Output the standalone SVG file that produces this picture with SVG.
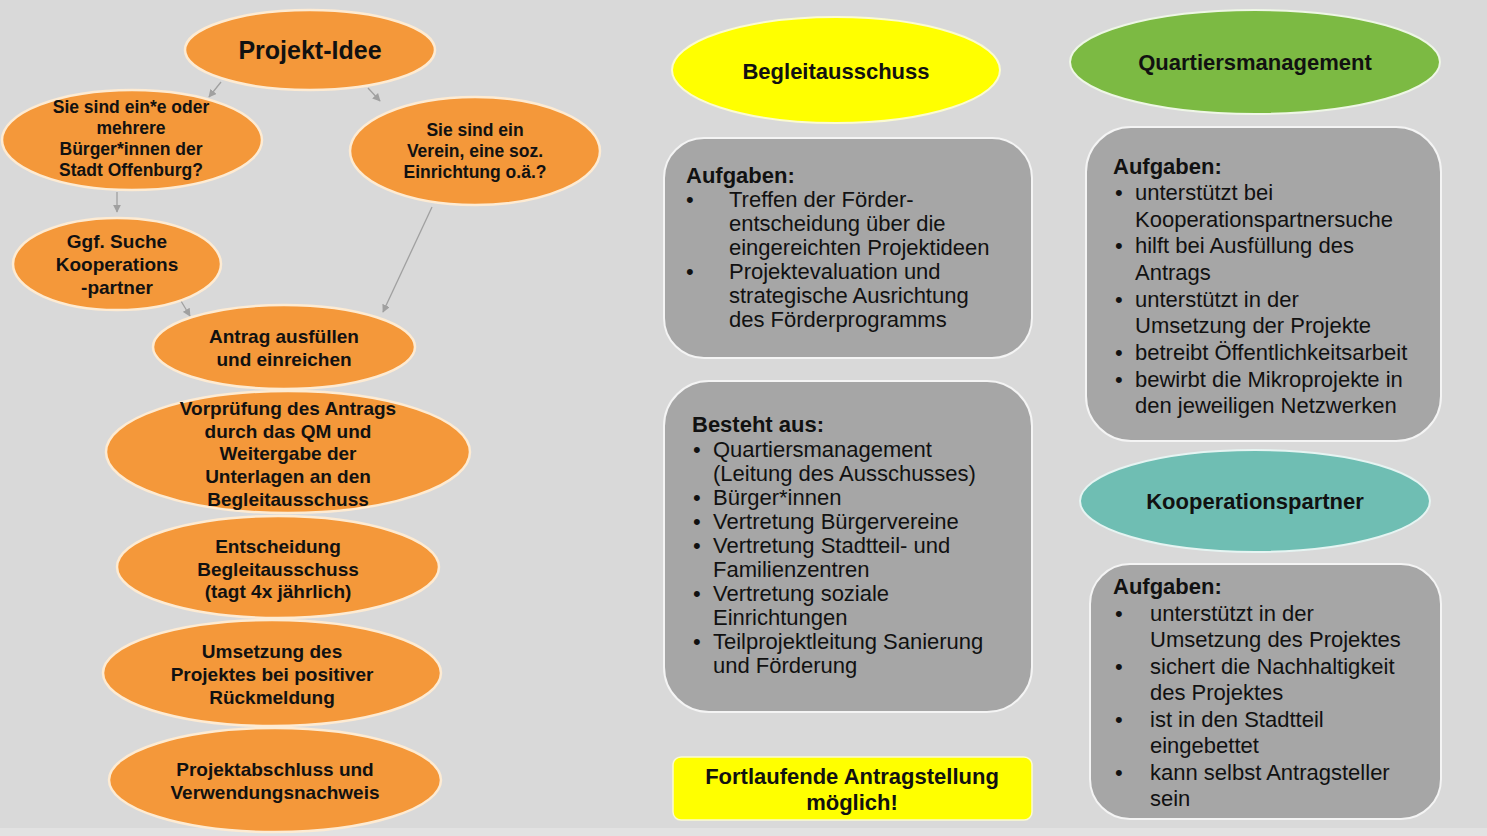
<svg xmlns="http://www.w3.org/2000/svg" width="1487" height="836" viewBox="0 0 1487 836">
<defs>
<marker id="ah" viewBox="0 0 10 10" refX="9" refY="5" markerWidth="8" markerHeight="8" markerUnits="userSpaceOnUse" orient="auto">
<path d="M0,0 L10,5 L0,10 z" fill="#a0a0a0"/>
</marker>
<style>
.bg{fill:#d9d9d9}
.or{fill:#f4983a;stroke:#fdebd3;stroke-width:2.5}
.gb{fill:#a6a6a6;stroke:#f4f4f4;stroke-width:2}
.t{font-family:"Liberation Sans",Arial,sans-serif;fill:#111}
.b{font-weight:bold}
.ob{font-family:"Liberation Sans",Arial,sans-serif;font-weight:bold;fill:#111;text-anchor:middle}
.n{font-family:"Liberation Sans",Arial,sans-serif;font-size:22px;fill:#111}
.con{stroke:#a0a0a0;stroke-width:1.3;fill:none;marker-end:url(#ah)}
</style>
</defs>
<rect class="bg" x="0" y="0" width="1487" height="836"/>
<rect x="0" y="828" width="1487" height="8" fill="#e2e2e2"/>

<g id="connectors">
<line class="con" x1="221" y1="82" x2="209" y2="97"/>
<line class="con" x1="368" y1="88" x2="380" y2="101"/>
<line class="con" x1="117" y1="192" x2="117" y2="212"/>
<line class="con" x1="181" y1="301" x2="190" y2="316"/>
<line class="con" x1="432" y1="207" x2="383" y2="312"/>
</g>

<g id="projekt-idee">
<ellipse class="or" cx="310" cy="50" rx="125" ry="40"/>
<text class="ob" x="310" y="59" font-size="25">Projekt-Idee</text>
</g>
<g id="buerger">
<ellipse class="or" cx="132" cy="140" rx="130" ry="50"/>
<text class="ob" font-size="17.5"><tspan x="131" y="113">Sie sind ein*e oder</tspan><tspan x="131" y="134">mehrere</tspan><tspan x="131" y="155">Bürger*innen der</tspan><tspan x="131" y="176">Stadt Offenburg?</tspan></text>
</g>
<g id="verein">
<ellipse class="or" cx="475" cy="151" rx="125" ry="54"/>
<text class="ob" font-size="17.5"><tspan x="475" y="136">Sie sind ein</tspan><tspan x="475" y="157">Verein, eine soz.</tspan><tspan x="475" y="178">Einrichtung o.ä.?</tspan></text>
</g>
<g id="kooperation-suche">
<ellipse class="or" cx="117" cy="264" rx="104" ry="46"/>
<text class="ob" font-size="19"><tspan x="117" y="248">Ggf. Suche</tspan><tspan x="117" y="271">Kooperations</tspan><tspan x="117" y="294">-partner</tspan></text>
</g>
<g id="antrag">
<ellipse class="or" cx="284" cy="347" rx="131" ry="42"/>
<text class="ob" font-size="19"><tspan x="284" y="343">Antrag ausfüllen</tspan><tspan x="284" y="366">und einreichen</tspan></text>
</g>
<g id="vorpruefung">
<ellipse class="or" cx="288" cy="452" rx="182" ry="61"/>
<text class="ob" font-size="19"><tspan x="288" y="415">Vorprüfung des Antrags</tspan><tspan x="288" y="438">durch das QM und</tspan><tspan x="288" y="460">Weitergabe der</tspan><tspan x="288" y="483">Unterlagen an den</tspan><tspan x="288" y="506">Begleitausschuss</tspan></text>
</g>
<g id="entscheidung">
<ellipse class="or" cx="278" cy="567" rx="161" ry="51"/>
<text class="ob" font-size="19"><tspan x="278" y="553">Entscheidung</tspan><tspan x="278" y="576">Begleitausschuss</tspan><tspan x="278" y="598">(tagt 4x jährlich)</tspan></text>
</g>
<g id="umsetzung">
<ellipse class="or" cx="272" cy="673" rx="169" ry="53"/>
<text class="ob" font-size="19"><tspan x="272" y="658">Umsetzung des</tspan><tspan x="272" y="681">Projektes bei positiver</tspan><tspan x="272" y="704">Rückmeldung</tspan></text>
</g>
<g id="abschluss">
<ellipse class="or" cx="275" cy="780" rx="166" ry="52"/>
<text class="ob" font-size="19"><tspan x="275" y="776">Projektabschluss und</tspan><tspan x="275" y="799">Verwendungsnachweis</tspan></text>
</g>

<g id="begleitausschuss">
<ellipse cx="836" cy="70" rx="164" ry="53" fill="#ffff00" stroke="#fbfbd0" stroke-width="2"/>
<text class="ob" x="836" y="79" font-size="22">Begleitausschuss</text>
</g>
<g id="ba-aufgaben">
<rect class="gb" x="664" y="138" width="368" height="220" rx="40"/>
<text class="n b" x="686" y="183">Aufgaben:</text>
<text class="n"><tspan x="686" y="207">•</tspan><tspan x="729" y="207">Treffen der Förder-</tspan><tspan x="729" y="231">entscheidung über die</tspan><tspan x="729" y="255">eingereichten Projektideen</tspan><tspan x="686" y="279">•</tspan><tspan x="729" y="279">Projektevaluation und</tspan><tspan x="729" y="303">strategische Ausrichtung</tspan><tspan x="729" y="327">des Förderprogramms</tspan></text>
</g>
<g id="ba-besteht">
<rect class="gb" x="664" y="381" width="368" height="331" rx="45"/>
<text class="n b" x="692" y="432">Besteht aus:</text>
<text class="n"><tspan x="693" y="457">•</tspan><tspan x="713" y="457">Quartiersmanagement</tspan><tspan x="713" y="481">(Leitung des Ausschusses)</tspan><tspan x="693" y="505">•</tspan><tspan x="713" y="505">Bürger*innen</tspan><tspan x="693" y="529">•</tspan><tspan x="713" y="529">Vertretung Bürgervereine</tspan><tspan x="693" y="553">•</tspan><tspan x="713" y="553">Vertretung Stadtteil- und</tspan><tspan x="713" y="577">Familienzentren</tspan><tspan x="693" y="601">•</tspan><tspan x="713" y="601">Vertretung soziale</tspan><tspan x="713" y="625">Einrichtungen</tspan><tspan x="693" y="649">•</tspan><tspan x="713" y="649">Teilprojektleitung Sanierung</tspan><tspan x="713" y="673">und Förderung</tspan></text>
</g>
<g id="fortlaufend">
<rect x="673" y="757" width="359" height="63" rx="8" fill="#ffff00" stroke="#fbfbd0" stroke-width="1.5"/>
<text class="ob" font-size="22"><tspan x="852" y="784">Fortlaufende Antragstellung</tspan><tspan x="852" y="810">möglich!</tspan></text>
</g>

<g id="quartiersmanagement">
<ellipse cx="1255" cy="62" rx="185" ry="52" fill="#7cba43" stroke="#eef6e6" stroke-width="2"/>
<text class="ob" x="1255" y="70" font-size="22">Quartiersmanagement</text>
</g>
<g id="qm-aufgaben">
<rect class="gb" x="1086" y="127" width="355" height="314" rx="45"/>
<text class="n b" x="1113" y="174">Aufgaben:</text>
<text class="n"><tspan x="1115" y="200">•</tspan><tspan x="1135" y="200">unterstützt bei</tspan><tspan x="1135" y="226.7">Kooperationspartnersuche</tspan><tspan x="1115" y="253.3">•</tspan><tspan x="1135" y="253.3">hilft bei Ausfüllung des</tspan><tspan x="1135" y="280">Antrags</tspan><tspan x="1115" y="306.7">•</tspan><tspan x="1135" y="306.7">unterstützt in der</tspan><tspan x="1135" y="333.3">Umsetzung der Projekte</tspan><tspan x="1115" y="360">•</tspan><tspan x="1135" y="360">betreibt Öffentlichkeitsarbeit</tspan><tspan x="1115" y="386.7">•</tspan><tspan x="1135" y="386.7">bewirbt die Mikroprojekte in</tspan><tspan x="1135" y="413.3">den jeweiligen Netzwerken</tspan></text>
</g>
<g id="kooperationspartner">
<ellipse cx="1255" cy="501" rx="175" ry="51" fill="#6fbeb3" stroke="#e6f4f2" stroke-width="2"/>
<text class="ob" x="1255" y="509" font-size="22">Kooperationspartner</text>
</g>
<g id="kp-aufgaben">
<rect class="gb" x="1090" y="564" width="351" height="255" rx="40"/>
<text class="n b" x="1113" y="594">Aufgaben:</text>
<text class="n"><tspan x="1115" y="620.5">•</tspan><tspan x="1150" y="620.5">unterstützt in der</tspan><tspan x="1150" y="647">Umsetzung des Projektes</tspan><tspan x="1115" y="673.5">•</tspan><tspan x="1150" y="673.5">sichert die Nachhaltigkeit</tspan><tspan x="1150" y="700">des Projektes</tspan><tspan x="1115" y="726.5">•</tspan><tspan x="1150" y="726.5">ist in den Stadtteil</tspan><tspan x="1150" y="753">eingebettet</tspan><tspan x="1115" y="779.5">•</tspan><tspan x="1150" y="779.5">kann selbst Antragsteller</tspan><tspan x="1150" y="806">sein</tspan></text>
</g>
</svg>
